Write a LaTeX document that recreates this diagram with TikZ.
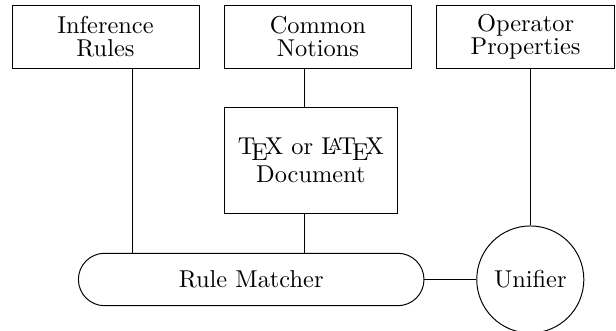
\documentclass[tikz,border=0pt]{standalone}
\usetikzlibrary{shapes.misc}
\begin{document}
\begin{tikzpicture}[x=0.41pt,y=-0.41pt,
  every node/.style={inner sep=0pt,align=center,font=\fontsize{10}{9.6}\selectfont},
  block/.style={draw,rectangle,minimum height=25.83pt},
  link/.style={draw,line width=0.4pt}]
  \useasboundingbox (0,0) rectangle (616,331);

  % sources on the top row
  \node[block,minimum width=76.67pt] (ir) at (105.5,36.5) {Inference\\Rules};
  \node[block,minimum width=76.96pt] (cn) at (317.9,36.5) {Common\\Notions};
  \node[block,minimum width=72.9pt]  (op) at (525.6,36.5) {Operator\\Properties};

  % document in the middle
  \node[draw,rectangle,minimum width=71.2pt,minimum height=43.75pt,
        font=\fontsize{10}{11.3}\selectfont] (doc) at (310.9,160.4)
       {\TeX{} or \LaTeX\\Document};

  % matcher and unifier
  \node[draw,rounded rectangle,minimum width=141.7pt,minimum height=21.5pt] (rm) at (251.2,279.5) {Rule Matcher};
  \node[draw,circle,minimum size=43.9pt] (un) at (530.3,279.5) {Unifier};

  % vertical taps
  \coordinate (xa) at (132,0);
  \coordinate (xb) at (304,0);
  \coordinate (xc) at (530.3,0);
  \draw[link] (ir.south -| xa) -- (rm.north -| xa);
  \draw[link] (cn.south -| xb) -- (doc.north -| xb);
  \draw[link] (doc.south -| xb) -- (rm.north -| xb);
  \draw[link] (op.south -| xc) -- (un.north);
  \draw[link] (rm.east) -- (un.west);
\end{tikzpicture}
\end{document}
